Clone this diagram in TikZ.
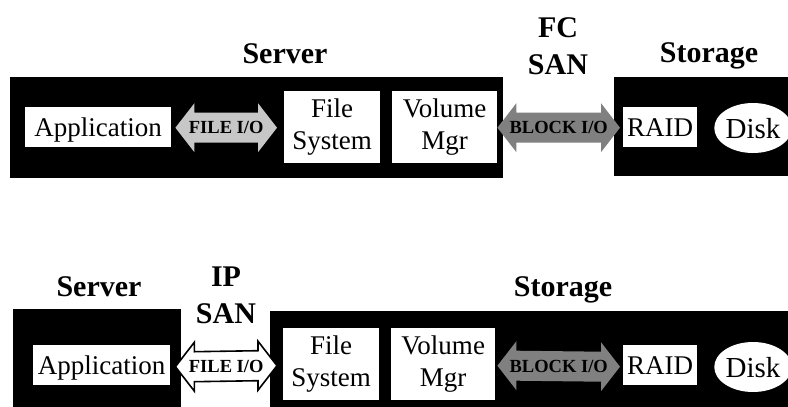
\documentclass[tikz,border=0pt]{standalone}
\usepackage{fontspec}
\setmainfont{Liberation Serif}
\usetikzlibrary{shapes.geometric,calc}
\newcommand\dblarr[4]{%
  \path[#1] (#2) -- ($(#2)+(19,-24.5)$) -- ($(#2)+(19,-15)$) -- ($(#3)+(-19,-15)$) -- ($(#3)+(-19,-24.5)$) -- (#3)
    -- ($(#3)+(-19,24.5)$) -- ($(#3)+(-19,15)$) -- ($(#2)+(19,15)$) -- ($(#2)+(19,24.5)$) -- cycle;
  \node[iotext] at ($(#2)!0.5!(#3)$) {#4};
}
\begin{document}
\begin{tikzpicture}[x=1pt,y=-1pt,
  blackbox/.style={fill=black,draw=none,inner sep=0,anchor=north west},
  wbox/.style={fill=white,draw=none,inner sep=0,anchor=north west,align=center,
    font=\fontsize{27}{32}\selectfont},
  onebox/.style={wbox,text depth=0pt},
  disk/.style={ellipse,fill=white,draw=none,inner sep=0,minimum width=68,minimum height=50,
    text depth=0pt,font=\fontsize{29}{32}\selectfont},
  title/.style={anchor=base,align=center,font=\fontsize{30}{37}\selectfont\bfseries},
  iotext/.style={inner sep=0,text depth=0pt,font=\fontsize{18.5}{20}\selectfont\bfseries},
  lightio/.style={fill=black!22},
  darkio/.style={fill=black!50},
  openio/.style={fill=white,draw=black,line width=1.6pt,line join=miter}]
\useasboundingbox (0,0) rectangle (788,407);
% ---------- top: FC SAN ----------
\node[blackbox,minimum width=493,minimum height=101] (srvA) at (10,77) {};
\node[blackbox,minimum width=174,minimum height=99] (stoA) at (614,77) {};
\node[title] (tsrvA) at (285,63) {Server};
\node[title] (tfc) at (558,74) {FC\\SAN};
\node[title] (tstoA) at (709,62) {Storage};
\node[onebox,minimum width=146,minimum height=40] (appA) at (25,107) {Application};
\node[wbox,minimum width=96,minimum height=72] (fsA) at (284,91) {File\\System};
\node[wbox,minimum width=105,minimum height=72] (vmA) at (392,91) {Volume\\Mgr};
\node[onebox,minimum width=74,minimum height=40] (raidA) at (623,107) {RAID};
\node[disk] (diskA) at (753,128) {Disk};
\coordinate (fa1) at ($(appA.east)+(4,0.5)$);
\coordinate (fa2) at ($(fsA.west)+(-7,0.5)$);
\dblarr{lightio}{fa1}{fa2}{FILE I/O}
\coordinate (ba1) at ($(vmA.east)+(0,0.5)$);
\coordinate (ba2) at ($(raidA.west)+(-3,0.5)$);
\dblarr{darkio}{ba1}{ba2}{BLOCK I/O}
% ---------- bottom: IP SAN ----------
\node[blackbox,minimum width=168,minimum height=98] (srvB) at (13,309) {};
\node[blackbox,minimum width=518,minimum height=96] (stoB) at (270,311) {};
\node[title] (tsrvB) at (99,296) {Server};
\node[title] (tip) at (226,323) {IP\\SAN};
\node[title] (tstoB) at (563,296) {Storage};
\node[onebox,minimum width=137,minimum height=40] (appB) at (33,345) {Application};
\node[wbox,minimum width=96,minimum height=72] (fsB) at (283,328) {File\\System};
\node[wbox,minimum width=104,minimum height=72] (vmB) at (391,328) {Volume\\Mgr};
\node[onebox,minimum width=74,minimum height=40] (raidB) at (623,345) {RAID};
\node[disk] (diskB) at (753,367) {Disk};
\coordinate (fb1) at ($(appB.east)+(5,1.5)$);
\coordinate (fb2) at ($(fsB.west)+(-6,1.5)$);
\dblarr{openio}{fb1}{fb2}{FILE I/O}
\coordinate (bb1) at ($(vmB.east)+(2,1.5)$);
\coordinate (bb2) at ($(raidB.west)+(-3,1.5)$);
\dblarr{darkio}{bb1}{bb2}{BLOCK I/O}
\end{tikzpicture}
\end{document}
